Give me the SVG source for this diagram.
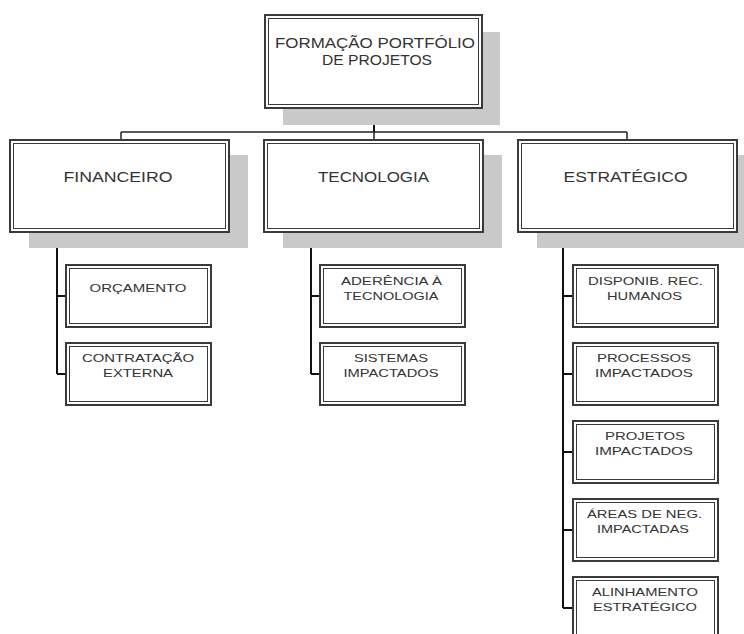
<svg xmlns="http://www.w3.org/2000/svg" width="744" height="634" viewBox="0 0 744 634">
<style>
.sh{fill:#c9c9c9}
.bo{fill:#fff;stroke:#3a3a3a;stroke-width:2}
.bi{fill:none;stroke:#3a3a3a;stroke-width:1}
.t{font-family:"Liberation Sans",Arial,sans-serif;fill:#333;text-anchor:middle}
.l{font-size:14px}
.s{font-size:11.5px}
.c{fill:none;stroke:#111;stroke-width:2}
.c1{fill:none;stroke:#222;stroke-width:1.5}
</style>
<rect width="744" height="634" fill="#fff"/>
<g id="connectors">
<path class="c" d="M374,108V132"/>
<path class="c1" d="M121,132H627M121,132V140M374,132V140M627,132V140"/>
<path class="c" d="M121,232V242H57V374M57,296H66M57,374H66"/>
<path class="c" d="M374,232V242H311V374M311,296H320M311,374H320"/>
<path class="c" d="M627,232V242H563V608M563,296H573M563,374H573M563,452H573M563,530H573M563,608H573"/>
</g>
<g id="root">
<rect class="sh" x="283" y="32" width="217" height="93"/>
<rect class="bo" x="265" y="15" width="217" height="93"/>
<rect class="bi" x="268.5" y="18.5" width="210" height="86"/>
<text class="t l" x="375" y="48" textLength="200" lengthAdjust="spacingAndGlyphs">FORMAÇÃO PORTFÓLIO</text>
<text class="t l" x="377" y="65" textLength="110" lengthAdjust="spacingAndGlyphs">DE PROJETOS</text>
</g>
<g id="financeiro">
<rect class="sh" x="29" y="155" width="219" height="93"/>
<rect class="bo" x="10" y="140" width="219" height="92"/>
<rect class="bi" x="13.5" y="143.5" width="212" height="85"/>
<text class="t l" x="118" y="182" textLength="109" lengthAdjust="spacingAndGlyphs">FINANCEIRO</text>
</g>
<g id="tecnologia">
<rect class="sh" x="283" y="155" width="219" height="93"/>
<rect class="bo" x="264" y="140" width="219" height="92"/>
<rect class="bi" x="267.5" y="143.5" width="212" height="85"/>
<text class="t l" x="373.5" y="182" textLength="111" lengthAdjust="spacingAndGlyphs">TECNOLOGIA</text>
</g>
<g id="estrategico">
<rect class="sh" x="537" y="155" width="219" height="93"/>
<rect class="bo" x="518" y="140" width="219" height="92"/>
<rect class="bi" x="521.5" y="143.5" width="212" height="85"/>
<text class="t l" x="625.5" y="182" textLength="124" lengthAdjust="spacingAndGlyphs">ESTRATÉGICO</text>
</g>
<g id="orcamento">
<rect class="bo" x="66" y="265" width="145" height="62"/>
<rect class="bi" x="69.5" y="268.5" width="138" height="55"/>
<text class="t s" x="138" y="292" textLength="97" lengthAdjust="spacingAndGlyphs">ORÇAMENTO</text>
</g>
<g id="contratacao">
<rect class="bo" x="66" y="343" width="145" height="62"/>
<rect class="bi" x="69.5" y="346.5" width="138" height="55"/>
<text class="t s" x="138" y="362" textLength="112" lengthAdjust="spacingAndGlyphs">CONTRATAÇÃO</text>
<text class="t s" x="138" y="377" textLength="70" lengthAdjust="spacingAndGlyphs">EXTERNA</text>
</g>
<g id="aderencia">
<rect class="bo" x="320" y="265" width="145" height="62"/>
<rect class="bi" x="323.5" y="268.5" width="138" height="55"/>
<text class="t s" x="391.5" y="285" textLength="101" lengthAdjust="spacingAndGlyphs">ADERÊNCIA À</text>
<text class="t s" x="391" y="300" textLength="95" lengthAdjust="spacingAndGlyphs">TECNOLOGIA</text>
</g>
<g id="sistemas">
<rect class="bo" x="320" y="343" width="145" height="62"/>
<rect class="bi" x="323.5" y="346.5" width="138" height="55"/>
<text class="t s" x="391" y="362" textLength="74" lengthAdjust="spacingAndGlyphs">SISTEMAS</text>
<text class="t s" x="391" y="377" textLength="95" lengthAdjust="spacingAndGlyphs">IMPACTADOS</text>
</g>
<g id="disponib">
<rect class="bo" x="573" y="265" width="145" height="62"/>
<rect class="bi" x="576.5" y="268.5" width="138" height="55"/>
<text class="t s" x="645.5" y="285" textLength="115" lengthAdjust="spacingAndGlyphs">DISPONIB. REC.</text>
<text class="t s" x="644.5" y="300" textLength="75" lengthAdjust="spacingAndGlyphs">HUMANOS</text>
</g>
<g id="processos">
<rect class="bo" x="573" y="343" width="145" height="62"/>
<rect class="bi" x="576.5" y="346.5" width="138" height="55"/>
<text class="t s" x="644" y="362" textLength="94" lengthAdjust="spacingAndGlyphs">PROCESSOS</text>
<text class="t s" x="644" y="377" textLength="98" lengthAdjust="spacingAndGlyphs">IMPACTADOS</text>
</g>
<g id="projetos">
<rect class="bo" x="573" y="421" width="145" height="62"/>
<rect class="bi" x="576.5" y="424.5" width="138" height="55"/>
<text class="t s" x="645" y="440" textLength="80" lengthAdjust="spacingAndGlyphs">PROJETOS</text>
<text class="t s" x="644" y="455" textLength="98" lengthAdjust="spacingAndGlyphs">IMPACTADOS</text>
</g>
<g id="areas">
<rect class="bo" x="573" y="499" width="145" height="62"/>
<rect class="bi" x="576.5" y="502.5" width="138" height="55"/>
<text class="t s" x="644.5" y="518" textLength="115" lengthAdjust="spacingAndGlyphs">ÁREAS DE NEG.</text>
<text class="t s" x="643" y="533" textLength="92" lengthAdjust="spacingAndGlyphs">IMPACTADAS</text>
</g>
<g id="alinhamento">
<rect class="bo" x="573" y="577" width="145" height="62"/>
<rect class="bi" x="576.5" y="580.5" width="138" height="55"/>
<text class="t s" x="645" y="596" textLength="106" lengthAdjust="spacingAndGlyphs">ALINHAMENTO</text>
<text class="t s" x="645" y="611" textLength="104" lengthAdjust="spacingAndGlyphs">ESTRATÉGICO</text>
</g>
</svg>
